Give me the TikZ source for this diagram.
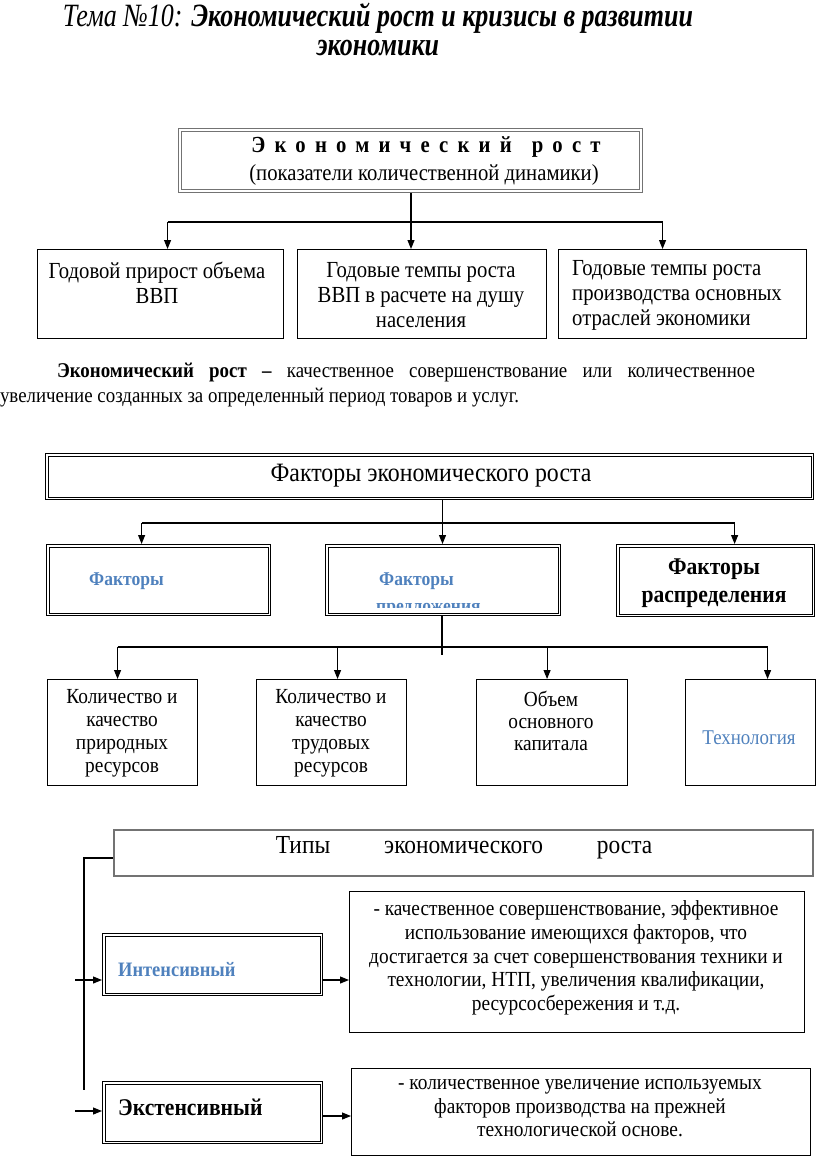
\documentclass[tikz,border=0pt]{standalone}
\usepackage{fontspec}
\setmainfont[FakeStretch=0.9]{Liberation Serif}
\newfontfamily\ttlfont[FakeStretch=0.8]{Liberation Serif}
\newfontfamily\spacedfont[LetterSpace=40,FakeStretch=0.9]{Liberation Serif}
\usetikzlibrary{arrows.meta}
\definecolor{accblue}{RGB}{79,129,189}
\definecolor{boxgray}{RGB}{115,115,115}
\newcommand{\fsz}[2]{\fontsize{#1pt}{#2pt}\selectfont}
\newcommand{\innerbox}[2][black]{\draw[draw=#1, line width=0.8pt] ([shift={(3.2pt,-3.2pt)}]#2.north west) rectangle ([shift={(-3.2pt,3.2pt)}]#2.south east);}
\begin{document}
\begin{tikzpicture}[x=1pt,y=-1pt,
  box/.style={draw, line width=1.1pt, inner sep=0pt, anchor=north west},
  dbox/.style={draw, line width=1.2pt, inner sep=0pt, anchor=north west},
  gbox/.style={draw=boxgray, line width=1pt, inner sep=0pt, anchor=north west},
  tbox/.style={draw=boxgray, line width=2pt, inner sep=0pt, anchor=north west},
  txt/.style={inner sep=0pt, align=center},
  ln/.style={line width=1.1pt},
  arr/.style={-{Triangle[length=9pt,width=7pt]}, line width=1.1pt}]
\useasboundingbox (0,0) rectangle (816,1164);

% title
\node[txt, font=\ttlfont\fsz{32.5}{30}] (title1) at (378,18) {\itshape Тема №10: \bfseries Экономический рост и кризисы в развитии};
\node[txt, font=\ttlfont\fsz{32.5}{30}\bfseries\itshape] (title2) at (378,48) {экономики};

% Economic growth box
\node[gbox, minimum width=464pt, minimum height=64pt] (b1) at (178,128) {};
\innerbox[boxgray]{b1}
\node[txt, font=\spacedfont\fsz{23}{25}\bfseries] (b1t) at (426,147) {Экономический\hspace{20pt}рост};
\node[txt, font=\fsz{23}{25}] (b1s) at (424,175) {(показатели количественной динамики)};

\node[box, minimum width=246pt, minimum height=89pt] (r1a) at (37,249) {};
\node[box, minimum width=249pt, minimum height=89pt] (r1b) at (297,249) {};
\node[box, minimum width=248pt, minimum height=89pt] (r1c) at (558,249) {};
\node[txt, font=\fsz{23}{25}] (r1at) at (157,282.5) {Годовой прирост объема\\ВВП};
\node[txt, font=\fsz{23}{25}] (r1bt) at (421,295) {Годовые темпы роста\\ВВП в расчете на душу\\населения};
\node[txt, font=\fsz{23}{25}, align=left, anchor=west] (r1ct) at (572,295) {Годовые темпы роста\\производства основных\\отраслей экономики};

\coordinate (j1) at (411,222);
\draw[ln] (b1.south -| j1) -- (j1);
\draw[ln] ([xshift=7pt]r1a.north |- j1) -- ([xshift=-20pt]r1c.north |- j1);
\draw[arr] ([xshift=7pt]r1a.north |- j1) -- ([xshift=7pt]r1a.north);
\draw[arr] (j1) -- (r1b.north -| j1);
\draw[arr] ([xshift=-20pt]r1c.north |- j1) -- ([xshift=-20pt]r1c.north);

% paragraph
\node[inner sep=0pt, text width=755pt, align=justify, font=\fsz{21}{25}] (par) at (377.5,385.5)
  {\hspace*{57pt}\textbf{Экономический рост –} качественное совершенствование или количественное\linebreak
   увеличение созданных за определенный период товаров и услуг.};

% factors
\node[dbox, minimum width=768pt, minimum height=46pt] (fb) at (45,453) {};
\innerbox{fb}
\node[txt, font=\fsz{26.5}{28}] (fbt) at (431,476) {Факторы экономического роста};

\node[dbox, minimum width=224pt, minimum height=71pt] (fa) at (46,544) {};
\node[dbox, minimum width=235pt, minimum height=71pt] (fs) at (325,544) {};
\node[dbox, minimum width=198pt, minimum height=72pt] (fr) at (616,544) {};
\innerbox{fa}
\innerbox{fs}
\innerbox{fr}
\node[txt, anchor=west, font=\fsz{19.5}{22}\bfseries, text=accblue] (fat) at (89,581) {Факторы};
\node[txt, anchor=west, font=\fsz{19.5}{22}\bfseries, text=accblue] (fst) at (379,581) {Факторы};
\begin{scope}
  \clip (330,590) rectangle (556,607);
  \node[txt, anchor=base west, font=\fsz{19.5}{22}\bfseries, text=accblue] (fst2) at (376,612) {предложения};
\end{scope}
\node[txt, font=\fsz{24}{28}\bfseries] (frt) at (714,583) {Факторы\\распределения};

\coordinate (j2) at (442.5,523);
\draw[ln] (fb.south -| j2) -- (j2);
\draw[ln] ([xshift=-17pt]fa.north |- j2) -- ([xshift=19pt]fr.north |- j2);
\draw[arr] ([xshift=-17pt]fa.north |- j2) -- ([xshift=-17pt]fa.north);
\draw[arr] (j2) -- (fs.north -| j2);
\draw[arr] ([xshift=19pt]fr.north |- j2) -- ([xshift=19pt]fr.north);

% supply factors
\node[box, minimum width=150pt, minimum height=106pt] (s1) at (47,679) {};
\node[box, minimum width=150pt, minimum height=106pt] (s2) at (256,679) {};
\node[box, minimum width=151pt, minimum height=106pt] (s3) at (476,679) {};
\node[box, minimum width=130pt, minimum height=106pt] (s4) at (685,679) {};
\node[txt, font=\fsz{21.5}{23}] (s1t) at (122,733.5) {Количество и\\качество\\природных\\ресурсов};
\node[txt, font=\fsz{21.5}{23}] (s2t) at (331,733.5) {Количество и\\качество\\трудовых\\ресурсов};
\node[txt, font=\fsz{21.5}{22}] (s3t) at (551,721) {Объем\\основного\\капитала};
\node[txt, font=\fsz{21}{23}, text=accblue] (s4t) at (749,738) {Технология};

\coordinate (j3) at (442,647);
\draw[ln] (fs.south -| j3) -- ([yshift=-8pt]j3);
\draw[ln] ([xshift=-5pt]s1.north |- j3) -- ([xshift=17pt]s4.north |- j3);
\draw[arr] ([xshift=-5pt]s1.north |- j3) -- ([xshift=-5pt]s1.north);
\draw[arr] ([xshift=6pt]s2.north |- j3) -- ([xshift=6pt]s2.north);
\draw[arr] ([xshift=-5pt]s3.north |- j3) -- ([xshift=-5pt]s3.north);
\draw[arr] ([xshift=17pt]s4.north |- j3) -- ([xshift=17pt]s4.north);

% types
\node[tbox, minimum width=699pt, minimum height=46pt] (ty) at (113,829) {};
\node[txt, font=\fsz{26}{28}] (tyt) at (464,848) {Типы\hspace{54pt}экономического\hspace{54pt}роста};

\node[dbox, minimum width=220pt, minimum height=62pt] (in) at (102,933) {};
\innerbox{in}
\node[txt, anchor=west, font=\fsz{20.5}{23}\bfseries, text=accblue] (int) at (118,970) {Интенсивный};
\node[box, minimum width=455pt, minimum height=141pt] (d1) at (349,891) {};
\node[txt, font=\fsz{21.5}{23.8}] (d1t) at (576,958) {- качественное совершенствование, эффективное\\использование имеющихся факторов, что\\достигается за счет совершенствования техники и\\технологии, НТП, увеличения квалификации,\\ресурсосбережения и т.д.};

\node[dbox, minimum width=220pt, minimum height=62pt] (ex) at (102,1081) {};
\innerbox{ex}
\node[txt, anchor=west, font=\fsz{24}{26}\bfseries] (ext) at (118,1107) {Экстенсивный};
\node[box, minimum width=459pt, minimum height=87pt] (d2) at (351,1068) {};
\node[txt, font=\fsz{21.5}{23.5}] (d2t) at (580,1108.5) {- количественное увеличение используемых\\факторов производства на прежней\\технологической основе.};

\coordinate (lc) at (84,1090);
\draw[ln] ([yshift=-5pt]ty.west) -| (lc);
\coordinate (ia) at (75,980);
\coordinate (ea) at (75,1111);
\draw[arr] (ia) -- (in.west |- ia);
\draw[arr] (ea) -- (ex.west |- ea);
\draw[arr] (in.east |- ia) -- (d1.west |- ia);
\draw[arr] (ex.east |- 0,1116) -- (d2.west |- 0,1116);
\end{tikzpicture}
\end{document}
